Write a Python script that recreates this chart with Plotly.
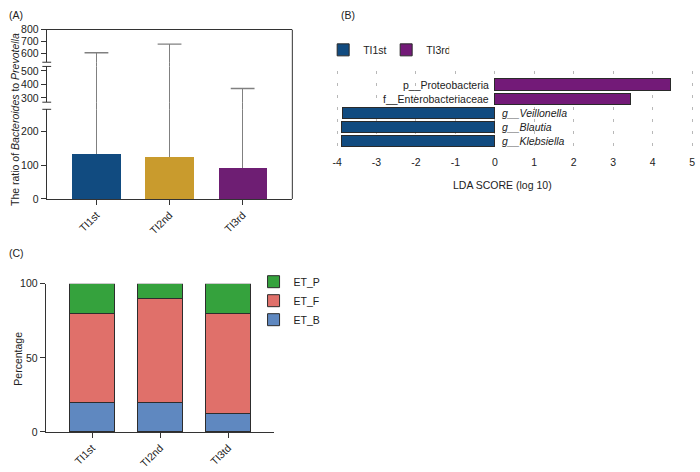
import plotly.graph_objects as go

W, H = 700, 472
FONT = 'Liberation Sans, Arial, sans-serif'
TXT = '#222222'
AXC = '#333333'
GREY = '#808080'

# (A) ratio of Bacteroides to Prevotella, broken y axis
groups_a = ['TI1st', 'TI2nd', 'TI3rd']
ratio_mean = [134, 124, 93]
ratio_upper = [608, 680, 370]
colors_a = ['#114b80', '#c99b2d', '#6e1e73']
seg_ranges = [[0, 267], [268, 534], [529, 800]]
seg_ticks = [[0, 100, 200], [300, 400, 500], [600, 700, 800]]

# (B) LDA scores
lda_taxa = ['g__Klebsiella', 'g__Blautia', 'g__Veillonella',
            'f__Enterobacteriaceae', 'p__Proteobacteria']
lda_score = [-3.90, -3.88, -3.85, 3.45, 4.46]
lda_group = ['TI1st', 'TI1st', 'TI1st', 'TI3rd', 'TI3rd']
lda_colors = {'TI1st': '#114b80', 'TI3rd': '#731a78'}
lda_ticks = list(range(-4, 6))

# (C) enterotype percentages
groups_c = ['TI1st', 'TI2nd', 'TI3td']
et_b = [20, 20, 12.5]
et_f = [60, 70, 67.5]
et_p = [20, 10, 20]
et_colors = {'ET_B': '#5f88c0', 'ET_F': '#e0706a', 'ET_P': '#35a23d'}


def px(x):
    return x / W


def py(y):
    return 1 - y / H


fig = go.Figure()

# panel A segments: (axis suffix, range, ticks, y domain); the two hidden
# ones fill the break gaps so the error lines run through them
a_dom = [px(44), px(291)]
segments = [
    ('', seg_ranges[0], seg_ticks[0], [py(198), py(106)]),
    ('2', seg_ranges[1], seg_ticks[1], [py(98.7), py(62)]),
    ('3', seg_ranges[2], seg_ticks[2], [py(57.7), py(24.3)]),
    ('6', [seg_ranges[0][1], seg_ranges[1][0]], None, [py(106), py(98.7)]),
    ('7', [seg_ranges[1][1], seg_ranges[1][1] + 1], None, [py(62), py(57.7)]),
]

err = [u - m for u, m in zip(ratio_upper, ratio_mean)]
for sfx, rng, ticks, dom in segments:
    fig.add_bar(x=groups_a, y=ratio_mean, width=0.66,
                marker=dict(color=colors_a, line=dict(width=0)),
                error_y=dict(type='data', array=err, arrayminus=[0, 0, 0],
                             symmetric=False, color=GREY, thickness=1.4, width=0),
                xaxis='x' + sfx, yaxis='y' + sfx, showlegend=False, hoverinfo='skip')
    if ticks is not None:
        fig.add_scatter(x=groups_a, y=ratio_upper, mode='markers',
                        marker=dict(symbol='line-ew', size=17,
                                    line=dict(width=1.4, color=GREY)),
                        xaxis='x' + sfx, yaxis='y' + sfx, showlegend=False,
                        hoverinfo='skip')

# panel B
for grp in ['TI1st', 'TI3rd']:
    fig.add_bar(x=[s for s, g in zip(lda_score, lda_group) if g == grp],
                y=[t for t, g in zip(lda_taxa, lda_group) if g == grp],
                orientation='h', width=0.82, name=grp,
                marker=dict(color=lda_colors[grp], line=dict(color='#2a2a2a', width=1)),
                xaxis='x4', yaxis='y4', legend='legend')

# panel C
for name, vals in [('ET_B', et_b), ('ET_F', et_f), ('ET_P', et_p)]:
    fig.add_bar(x=groups_c, y=vals, name=name, width=0.66,
                marker=dict(color=et_colors[name], line=dict(color='#2d2d2d', width=1)),
                xaxis='x5', yaxis='y5', legend='legend2')

tickfont = dict(family=FONT, size=10.5, color=TXT)

axes = dict(
    xaxis4=dict(domain=[px(334), px(695)], anchor='y4', range=[-4.05, 5.05],
                tickvals=lda_ticks, ticktext=[str(v) for v in lda_ticks],
                ticks='', showline=False,
                showgrid=True, gridcolor='#b8b8b8', gridwidth=1, griddash='3px,9px',
                zeroline=False, tickfont=tickfont),
    yaxis4=dict(domain=[py(152.7), py(66.4)], anchor='x4', type='category',
                categoryorder='array', categoryarray=lda_taxa, range=[-1, 5],
                showticklabels=False, ticks='', showline=False, showgrid=False),
    xaxis5=dict(domain=[px(43), px(273)], anchor='y5', range=[-0.68, 2.68],
                categoryorder='array', categoryarray=groups_c,
                showline=True, linecolor=AXC, ticks='outside', ticklen=5,
                tickcolor=AXC, tickangle=-45, tickfont=tickfont, showgrid=False),
    yaxis5=dict(domain=[py(437), py(285)], anchor='x5', range=[0, 100],
                tickvals=[0, 50, 100], showline=True, linecolor=AXC,
                ticks='outside', ticklen=5, tickcolor=AXC, tickfont=tickfont,
                showgrid=False, zeroline=False),
)
for sfx, rng, ticks, dom in segments:
    xa = dict(domain=a_dom, anchor='y' + sfx, range=[-0.68, 2.68],
              categoryorder='array', categoryarray=groups_a, showgrid=False,
              zeroline=False)
    ya = dict(domain=dom, anchor='x' + sfx, range=rng, showgrid=False, zeroline=False)
    if sfx == '':
        xa.update(showline=True, linecolor=AXC, ticks='outside', ticklen=5,
                  tickcolor=AXC, tickangle=-45, tickfont=tickfont)
    elif sfx == '3':
        xa.update(side='top', showline=True, linecolor=AXC, showticklabels=False,
                  ticks='')
    else:
        xa.update(visible=False)
    if ticks is not None:
        ya.update(tickvals=ticks, showline=True, linecolor=AXC, ticks='outside',
                  ticklen=5, tickcolor=AXC, tickfont=tickfont)
    else:
        ya.update(visible=False)
    axes['xaxis' + sfx] = xa
    axes['yaxis' + sfx] = ya

annotations = [
    dict(text='(A)', x=px(4), y=py(9), xanchor='left'),
    dict(text='(B)', x=px(338), y=py(9), xanchor='left'),
    dict(text='(C)', x=px(4), y=py(253), xanchor='left'),
    dict(text='The ratio of <i>Bacteroides</i> to <i>Prevotella</i>',
         x=px(12), y=py(116), textangle=-90, xanchor='center'),
    dict(text='LDA SCORE (log 10)', x=px(502), y=py(184), xanchor='center'),
    dict(text='Percentage', x=px(15), y=py(362), textangle=-90, xanchor='center'),
]
for a in annotations:
    a.update(xref='paper', yref='paper', showarrow=False, yanchor='middle',
             font=dict(family=FONT, size=10.5, color=TXT))

for taxon, score in zip(lda_taxa, lda_score):
    pos = score > 0
    annotations.append(dict(
        text=taxon if pos else f'<i>{taxon}</i>', x=0, y=taxon,
        xref='x4', yref='y4', showarrow=False,
        xanchor='right' if pos else 'left', xshift=-4 if pos else 5,
        font=dict(family=FONT, size=10.5, color=TXT)))

# frame on panel A and axis break marks
shapes = [
    dict(type='line', xref='x domain', yref='paper', x0=1, x1=1,
         y0=py(198), y1=py(24.3), line=dict(color=AXC, width=1)),
]
for yref, yv in [('y domain', 1), ('y2 domain', 0), ('y2 domain', 1), ('y3 domain', 0)]:
    shapes.append(dict(type='line', xref='x domain', yref=yref,
                       x0=-0.018, x1=0.018, y0=yv, y1=yv,
                       line=dict(color=AXC, width=1)))

fig.update_layout(
    width=W, height=H,
    margin=dict(l=0, r=0, t=0, b=0),
    paper_bgcolor='white', plot_bgcolor='white',
    font=dict(family=FONT, size=10.5, color=TXT),
    barmode='stack',
    annotations=annotations,
    shapes=shapes,
    legend=dict(orientation='h', x=px(322), y=py(45), xanchor='left', yanchor='middle',
                traceorder='normal', entrywidth=18, entrywidthmode='pixels',
                font=dict(size=10.5), bgcolor='rgba(0,0,0,0)'),
    legend2=dict(x=px(252), y=py(268), xanchor='left', yanchor='top',
                 traceorder='reversed', font=dict(size=10.5), bgcolor='rgba(0,0,0,0)'),
    **axes,
)

# the page body has a default 8px margin; drop it so the figure fills the window
fig.write_html("out.html", config={'displayModeBar': False},
               post_script="document.body.style.margin = '0';")
